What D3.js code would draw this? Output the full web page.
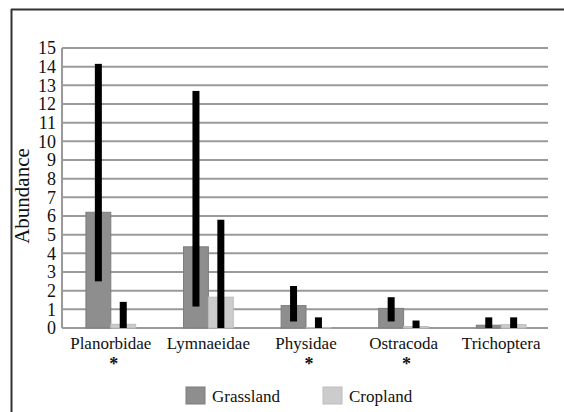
<!DOCTYPE html>
<html><head><meta charset="utf-8">
<script src="https://cdn.jsdelivr.net/npm/d3@7"></script>
<style>html,body{margin:0;padding:0;background:#fff;}svg{display:block;}svg text{font-family:"Liberation Serif","Times New Roman",serif;}</style>
</head><body>
<svg id="chart" width="564" height="412"></svg>
<script>
const categories = ["Planorbidae","Lymnaeidae","Physidae","Ostracoda","Trichoptera"];
const seriesNames = ["Grassland","Cropland"];
const grassland = [6.2, 4.35, 1.2, 1.05, 0.15];
const cropland  = [0.2, 1.65, 0.02, 0.08, 0.18];
const grassLow  = [2.5, 1.15, 0.35, 0.35, 0];
const grassHigh = [14.15, 12.7, 2.25, 1.65, 0.57];
const cropLow   = [0, 0, 0, 0, 0];
const cropHigh  = [1.4, 5.8, 0.57, 0.4, 0.57];
const significant = [true, false, true, true, false];
const yTicks = d3.range(0, 16);

const svg = d3.select("#chart");
const L = 62, R = 550, T = 48, B = 328;
const colors = {Grassland: "#8e8e8e", Cropland: "#cccccc"};

// outer frame (top and left)
svg.append("line").attr("x1", 11).attr("x2", 564).attr("y1", 9.5).attr("y2", 9.5).attr("stroke", "#333").attr("stroke-width", 2);
svg.append("line").attr("x1", 11.5).attr("x2", 11.5).attr("y1", 9).attr("y2", 412).attr("stroke", "#333").attr("stroke-width", 2);

const y = d3.scaleLinear().domain([0, 15]).range([B, T]);
const x0 = d3.scaleBand().domain(categories).range([L, R]).paddingInner(0.49).paddingOuter(0.245);
const x1 = d3.scaleBand().domain(seriesNames).range([0, x0.bandwidth()]);

// gridlines
svg.append("g").selectAll("line").data(yTicks).join("line")
  .attr("x1", L).attr("x2", 548)
  .attr("y1", d => y(d)).attr("y2", d => y(d))
  .attr("stroke", "#9a9a9a").attr("stroke-width", 2);
svg.append("line").attr("x1", L).attr("x2", L).attr("y1", T).attr("y2", B)
  .attr("stroke", "#9a9a9a").attr("stroke-width", 2);

// y axis labels
const yAxis = d3.axisLeft(y).tickValues(yTicks).tickSize(0).tickPadding(6);
const ga = svg.append("g").attr("transform", `translate(${L},0)`).call(yAxis)
  .attr("font-family", null).attr("font-size", null);
ga.select(".domain").remove();
ga.selectAll("text").style("font-size", "18px").attr("fill", "#111");

// y title
svg.append("text").attr("transform", `translate(29,${(T+B)/2 + 8}) rotate(-90)`)
  .attr("text-anchor", "middle").style("font-size", "21px").attr("fill", "#111")
  .text("Abundance");

const rows = categories.map((c, i) => ({c, i}));
const g = svg.append("g");
// bars
g.selectAll(".bg").data(rows).join("rect")
  .attr("x", d => x0(d.c) + x1("Grassland")).attr("width", x1.bandwidth())
  .attr("y", d => y(grassland[d.i])).attr("height", d => B - y(grassland[d.i]))
  .attr("fill", colors.Grassland).attr("stroke", "#7d7d7d").attr("stroke-width", 1);
g.selectAll(".bc").data(rows).join("rect")
  .attr("x", d => x0(d.c) + x1("Cropland")).attr("width", x1.bandwidth())
  .attr("y", d => y(cropland[d.i])).attr("height", d => B - y(cropland[d.i]))
  .attr("fill", colors.Cropland).attr("stroke", "#bdbdbd").attr("stroke-width", 1);

// error bars
const ew = 7;
g.selectAll(".eg").data(rows).join("rect")
  .attr("x", d => x0(d.c) + x1("Grassland") + x1.bandwidth()/2 - ew/2).attr("width", ew)
  .attr("y", d => y(grassHigh[d.i])).attr("height", d => y(grassLow[d.i]) - y(grassHigh[d.i]))
  .attr("fill", "#000");
g.selectAll(".ec").data(rows).join("rect")
  .attr("x", d => x0(d.c) + x1("Cropland") + x1.bandwidth()/2 - ew/2).attr("width", ew)
  .attr("y", d => y(cropHigh[d.i])).attr("height", d => y(cropLow[d.i]) - y(cropHigh[d.i]))
  .attr("fill", "#000");

// category labels
svg.append("g").selectAll("text").data(categories).join("text")
  .attr("x", d => x0(d) + x0.bandwidth()/2).attr("y", 349)
  .attr("text-anchor", "middle").style("font-size", "17px").attr("fill", "#111")
  .text(d => d);
svg.append("g").selectAll("text").data(rows.filter(d => significant[d.i])).join("text")
  .attr("x", d => x0(d.c) + x0.bandwidth()/2 + 3).attr("y", 370)
  .attr("text-anchor", "middle").style("font-size", "18px").attr("font-weight", "bold").attr("fill", "#111")
  .text("*");

// legend
const legendX = [186, 323];
const lg = svg.append("g").selectAll("g").data(seriesNames).join("g")
  .attr("transform", (d, i) => `translate(${legendX[i]},387)`);
lg.append("rect").attr("width", 19).attr("height", 17)
  .attr("fill", d => colors[d]).attr("stroke", d => d === "Grassland" ? "#7d7d7d" : "#bdbdbd");
lg.append("text").attr("x", 26).attr("y", 15).style("font-size", "17px").attr("fill", "#111")
  .text(d => d);
</script>
</body></html>
